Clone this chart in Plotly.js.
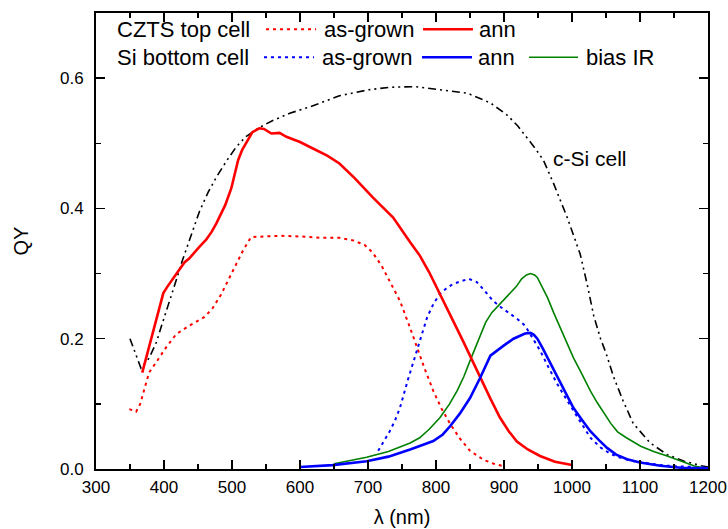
<!DOCTYPE html>
<html>
<head>
<meta charset="utf-8">
<script src="https://cdn.plot.ly/plotly-3.0.1.min.js"></script>
<style>html,body{margin:0;padding:0;background:#fff;}#chart{width:728px;height:529px;}</style>
</head>
<body>
<div id="chart"></div>
<script>
// c-Si reference cell
const cSiX = [350,358,366,378,389,397,404,415,427,440,452,465,477,492,506,520,540,560,585,620,658,700,732,770,800,846,880,905,920,934,946,958,973,993,1012,1022,1032,1042,1050,1061,1075,1090,1115,1140,1165,1190,1200];
const cSiY = [0.200,0.178,0.155,0.170,0.195,0.222,0.246,0.280,0.320,0.360,0.395,0.425,0.448,0.473,0.494,0.510,0.524,0.535,0.546,0.558,0.573,0.582,0.586,0.587,0.583,0.577,0.562,0.543,0.527,0.509,0.492,0.474,0.438,0.386,0.330,0.285,0.235,0.200,0.178,0.142,0.105,0.070,0.040,0.022,0.012,0.005,0.003];

// CZTS top cell, annealed
const cztsAnnX = [368,382,396,399,405,418,430,437,445,452,462,470,477,490,499,509,515,521,530,540,547,558,570,580,600,619,640,658,680,707,737,762,776,790,806,823,840,865,880,894,907,919,935,953,975,1000];
const cztsAnnY = [0.148,0.205,0.260,0.270,0.280,0.300,0.317,0.323,0.333,0.341,0.352,0.364,0.377,0.405,0.431,0.474,0.490,0.500,0.517,0.523,0.522,0.515,0.516,0.510,0.502,0.492,0.481,0.469,0.447,0.417,0.386,0.348,0.328,0.302,0.269,0.232,0.196,0.140,0.108,0.079,0.058,0.042,0.030,0.020,0.011,0.006];

// CZTS top cell, as-grown
const cztsAsX = [349,359,365,371,378,386,395,404,418,437,459,471,484,496,506,516,528,550,570,600,630,658,678,695,707,720,732,747,760,772,784,796,808,821,835,850,870,885,900];
const cztsAsY = [0.092,0.088,0.100,0.123,0.148,0.160,0.174,0.188,0.207,0.220,0.233,0.246,0.268,0.294,0.315,0.335,0.356,0.357,0.358,0.357,0.355,0.355,0.351,0.344,0.332,0.312,0.289,0.258,0.222,0.186,0.152,0.120,0.093,0.069,0.047,0.028,0.014,0.008,0.004];

// Si bottom cell, as-grown
const siAsX = [715,725,732,740,747,759,772,787,797,806,815,825,848,860,872,884,896,909,920,931,942,953,965,978,990,1002,1015,1027,1042,1057,1075,1091,1115,1140,1170,1200];
const siAsY = [0.028,0.045,0.058,0.075,0.094,0.138,0.182,0.233,0.255,0.269,0.277,0.284,0.292,0.287,0.273,0.258,0.248,0.238,0.230,0.220,0.202,0.182,0.157,0.131,0.110,0.089,0.068,0.048,0.033,0.023,0.016,0.012,0.008,0.005,0.003,0.002];

// Si bottom cell, annealed
const siAnnX = [600,648,698,730,762,796,810,821,835,850,865,880,899,914,931,939,944,949,956,964,983,1002,1015,1027,1040,1052,1065,1081,1100,1130,1160,1190,1200];
const siAnnY = [0.003,0.006,0.012,0.019,0.030,0.043,0.053,0.066,0.085,0.109,0.140,0.174,0.189,0.200,0.208,0.209,0.206,0.200,0.187,0.171,0.131,0.094,0.075,0.058,0.044,0.032,0.022,0.015,0.010,0.005,0.002,0.001,0.001];

// Si bottom cell, bias IR
const siBiasX = [650,698,730,762,776,790,806,820,831,841,850,858,865,873,882,895,909,918,926,933,939,945,949,956,964,973,983,1002,1015,1027,1037,1047,1057,1067,1080,1101,1120,1140,1160,1179,1195];
const siBiasY = [0.008,0.018,0.027,0.040,0.048,0.061,0.079,0.100,0.120,0.142,0.166,0.187,0.207,0.225,0.240,0.254,0.269,0.280,0.292,0.298,0.300,0.298,0.294,0.280,0.263,0.240,0.217,0.171,0.145,0.120,0.102,0.085,0.070,0.057,0.048,0.035,0.027,0.020,0.012,0.005,0.001];

const xTicks = [300,400,500,600,700,800,900,1000,1100,1200];
const yTicks = [0.0,0.2,0.4,0.6];
const rowHeaders = ['CZTS top cell','Si bottom cell'];
const itemLabels = ['as-grown','ann','bias IR'];
const cSiLabel = 'c-Si cell';

const FONT = 'Liberation Sans, Arial, sans-serif';
const dotDash = '3px,4px';
const dashDotDot = '8px,4px,2px,4px,2px,4px';

const traces = [
  {x: cSiX, y: cSiY, name: 'c-Si cell', mode: 'lines', line: {color: '#000000', width: 1.6, dash: dashDotDot}},
  {x: cztsAsX, y: cztsAsY, name: 'CZTS as-grown', mode: 'lines', line: {color: '#ff0000', width: 2, dash: dotDash}},
  {x: siAsX, y: siAsY, name: 'Si as-grown', mode: 'lines', line: {color: '#0000ff', width: 2, dash: dotDash}},
  {x: siBiasX, y: siBiasY, name: 'bias IR', mode: 'lines', line: {color: '#008000', width: 1.6}},
  {x: cztsAnnX, y: cztsAnnY, name: 'CZTS ann', mode: 'lines', line: {color: '#ff0000', width: 2.6}},
  {x: siAnnX, y: siAnnY, name: 'Si ann', mode: 'lines', line: {color: '#0000ff', width: 2.6}}
];

const row1 = 0.9643, row2 = 0.9029, textDy = 0.0;
function seg(x0, x1, y, color, dash, width) {
  return {type: 'line', xref: 'paper', yref: 'paper', x0: x0, x1: x1, y0: y, y1: y,
          line: {color: color, width: width, dash: dash}};
}
function lab(text, x, y) {
  return {text: text, xref: 'paper', yref: 'paper', x: x, y: y + textDy, xanchor: 'left', yanchor: 'middle',
          showarrow: false, font: {family: FONT, size: 22, color: '#000'}};
}

const layout = {
  width: 728, height: 529,
  margin: {l: 96, r: 20, t: 13, b: 60},
  paper_bgcolor: '#ffffff', plot_bgcolor: '#ffffff',
  showlegend: false,
  font: {family: FONT, color: '#000'},
  xaxis: {
    range: [300, 1200], tickvals: xTicks, ticktext: xTicks.map(String),
    ticks: 'inside', ticklen: 9, tickwidth: 1.5, tickcolor: '#000',
    minor: {dtick: 50, tick0: 300, ticks: 'inside', ticklen: 5, tickwidth: 1.5, tickcolor: '#000'},
    showline: true, linewidth: 2, linecolor: '#000', mirror: 'ticks',
    showgrid: false, zeroline: false,
    tickfont: {family: FONT, size: 17, color: '#000'},
    ticklabelstandoff: 2,
    title: {text: 'λ (nm)', font: {family: FONT, size: 20, color: '#000'}, standoff: 14}
  },
  yaxis: {
    range: [0, 0.7], tickvals: yTicks, ticktext: yTicks.map(v => v.toFixed(1)),
    ticks: 'inside', ticklen: 9, tickwidth: 1.5, tickcolor: '#000',
    minor: {dtick: 0.1, tick0: 0, ticks: 'inside', ticklen: 5, tickwidth: 1.5, tickcolor: '#000'},
    showline: true, linewidth: 2, linecolor: '#000', mirror: 'ticks',
    showgrid: false, zeroline: false,
    tickfont: {family: FONT, size: 17, color: '#000'},
    ticklabelstandoff: 7,
    title: {text: 'QY', font: {family: FONT, size: 20, color: '#000'}, standoff: 26}
  },
  shapes: [
    seg(0.2778, 0.3595, row1, '#ff0000', dotDash, 2),
    seg(0.5343, 0.6160, row1, '#ff0000', 'solid', 2.6),
    seg(0.2745, 0.3562, row2, '#0000ff', dotDash, 2),
    seg(0.5327, 0.6144, row2, '#0000ff', 'solid', 2.6),
    seg(0.7075, 0.7876, row2, '#008000', 'solid', 1.6)
  ],
  annotations: [
    lab(rowHeaders[0], 0.031, row1),
    lab(itemLabels[0], 0.3685, row1),
    lab(itemLabels[1], 0.6225, row1),
    lab(rowHeaders[1], 0.031, row2),
    lab(itemLabels[0], 0.366, row2),
    lab(itemLabels[1], 0.621, row2),
    lab(itemLabels[2], 0.7966, row2),
    {text: cSiLabel, x: 969, y: 0.477, xref: 'x', yref: 'y', xanchor: 'left', yanchor: 'middle',
     showarrow: false, font: {family: FONT, size: 21, color: '#000'}}
  ]
};

Plotly.newPlot('chart', traces, layout, {staticPlot: true, displayModeBar: false});
</script>
</body>
</html>
